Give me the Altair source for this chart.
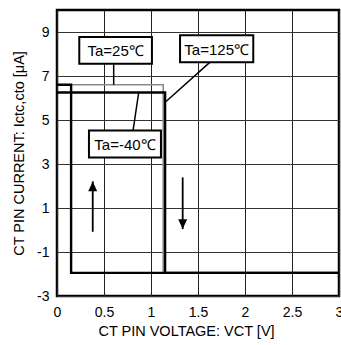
import altair as alt
import pandas as pd

# CT pin current vs. voltage loops at three ambient temperatures
t25_v = [0.15, 1.13, 1.13]
t25_i = [6.6, 6.6, -1.95]
tm40_v = [0.0, 1.15, 1.15, 3.0]
tm40_i = [6.25, 6.25, -1.95, -1.95]
t125_v = [0.0, 0.15, 0.15, 3.0]
t125_i = [6.6, 6.6, -1.95, -1.95]

# Label boxes: text, box corners, leader line start/end
lbl_text = ["Ta=25℃", "Ta=125℃", "Ta=-40℃"]
box_x1 = [0.237, 1.309, 0.340]
box_x2 = [1.010, 2.088, 1.106]
box_y1 = [7.56, 7.63, 3.30]
box_y2 = [8.77, 8.85, 4.52]
lead_x1 = [0.603, 1.628, 0.809]
lead_y1 = [7.56, 7.63, 4.52]
lead_x2 = [0.603, 1.160, 0.869]
lead_y2 = [6.60, 5.84, 6.25]

# Direction arrows: shaft x, tail y, tip y
arr_x = [0.38, 1.337]
arr_tail = [-0.08, 2.39]
arr_tip = [2.21, 0.04]
arr_dir = ["up", "down"]

X_DOMAIN = [0, 3]
Y_DOMAIN = [-3, 10]

xs = alt.Scale(domain=X_DOMAIN, nice=False, zero=False)
ys = alt.Scale(domain=Y_DOMAIN, nice=False, zero=False)

font = "Liberation Sans"


def series(v, i):
    return pd.DataFrame({"v": v, "i": i, "k": list(range(len(v)))})


def loop(df, color, width):
    return alt.Chart(df).mark_line(color=color, strokeWidth=width, clip=True).encode(
        x=alt.X("v:Q", scale=xs),
        y=alt.Y("i:Q", scale=ys),
        order="k:Q",
    )


base_axes = alt.Chart(pd.DataFrame({"v": [0], "i": [0]})).mark_point(opacity=0).encode(
    x=alt.X(
        "v:Q",
        scale=xs,
        axis=alt.Axis(
            title="CT PIN VOLTAGE: VCT [V]",
            values=[0, 0.5, 1, 1.5, 2, 2.5, 3],
            labelExpr="'' + datum.value",
            grid=True,
            gridColor="#222",
            gridWidth=1,
            domain=False,
            ticks=False,
            labelPadding=9,
            labelFontSize=14,
            labelFont=font,
            labelColor="#000",
            titleFontSize=14.5,
            titleFont=font,
            titleFontWeight="normal",
            titleColor="#000",
            titlePadding=5,
            titleX=129,
            titleAnchor="middle",
            labelFlush=False,
        ),
    ),
    y=alt.Y(
        "i:Q",
        scale=ys,
        axis=alt.Axis(
            title="CT PIN CURRENT: Ictc,cto [μA]",
            values=[-3, -1, 1, 3, 5, 7, 9],
            labelExpr="'' + datum.value",
            grid=True,
            gridColor="#333",
            gridWidth=1,
            domain=False,
            ticks=False,
            labelPadding=8,
            labelFontSize=14,
            labelFont=font,
            labelColor="#000",
            titleFontSize=14.5,
            titleFont=font,
            titleFontWeight="normal",
            titleColor="#000",
            titlePadding=10,
            labelFlush=False,
        ),
    ),
)

lines = [
    loop(series(t25_v, t25_i), "#8a8a8a", 1.6),
    loop(series(t125_v, t125_i), "#000", 2.4),
    loop(series(tm40_v, tm40_i), "#000", 2.4),
]

boxes_df = pd.DataFrame({
    "t": lbl_text, "x1": box_x1, "x2": box_x2, "y1": box_y1, "y2": box_y2,
    "lx1": lead_x1, "ly1": lead_y1, "lx2": lead_x2, "ly2": lead_y2,
})
boxes_df["cx"] = (boxes_df["x1"] + boxes_df["x2"]) / 2
boxes_df["cy"] = (boxes_df["y1"] + boxes_df["y2"]) / 2

leaders = alt.Chart(boxes_df).mark_rule(color="#000", strokeWidth=1.5).encode(
    x=alt.X("lx1:Q", scale=xs), x2="lx2:Q",
    y=alt.Y("ly1:Q", scale=ys), y2="ly2:Q",
)
boxes = alt.Chart(boxes_df).mark_rect(fill="white", stroke="#000", strokeWidth=2).encode(
    x=alt.X("x1:Q", scale=xs), x2="x2:Q",
    y=alt.Y("y1:Q", scale=ys), y2="y2:Q",
)
labels = alt.Chart(boxes_df).mark_text(
    font=font, fontSize=15, color="#000", baseline="middle", align="center", dy=1
).encode(
    x=alt.X("cx:Q", scale=xs),
    y=alt.Y("cy:Q", scale=ys),
    text="t:N",
)

arr_df = pd.DataFrame({"x": arr_x, "tail": arr_tail, "tip": arr_tip, "d": arr_dir})
shafts = alt.Chart(arr_df).mark_rule(color="#000", strokeWidth=1.8).encode(
    x=alt.X("x:Q", scale=xs),
    y=alt.Y("tail:Q", scale=ys), y2="tip:Q",
)
heads_up = alt.Chart(arr_df).transform_filter(alt.datum.d == "up").mark_point(
    shape="M0,0L-0.5,1.1L0.5,1.1Z", filled=True, color="#000", size=324, opacity=1
).encode(x=alt.X("x:Q", scale=xs), y=alt.Y("tip:Q", scale=ys))
heads_down = alt.Chart(arr_df).transform_filter(alt.datum.d == "down").mark_point(
    shape="M0,0L-0.5,-1.1L0.5,-1.1Z", filled=True, color="#000", size=324, opacity=1
).encode(x=alt.X("x:Q", scale=xs), y=alt.Y("tip:Q", scale=ys))

chart = alt.layer(
    base_axes, *lines, leaders, boxes, labels, shafts, heads_up, heads_down
).properties(
    width=282,
    height=286,
    autosize=alt.AutoSizeParams(type="none"),
    padding={"left": 57, "top": 10, "right": 2, "bottom": 49},
    background="white",
).configure_view(
    stroke="#000", strokeWidth=2.5
)

chart.save("out.html", embed_options={"renderer": "svg", "actions": False})
